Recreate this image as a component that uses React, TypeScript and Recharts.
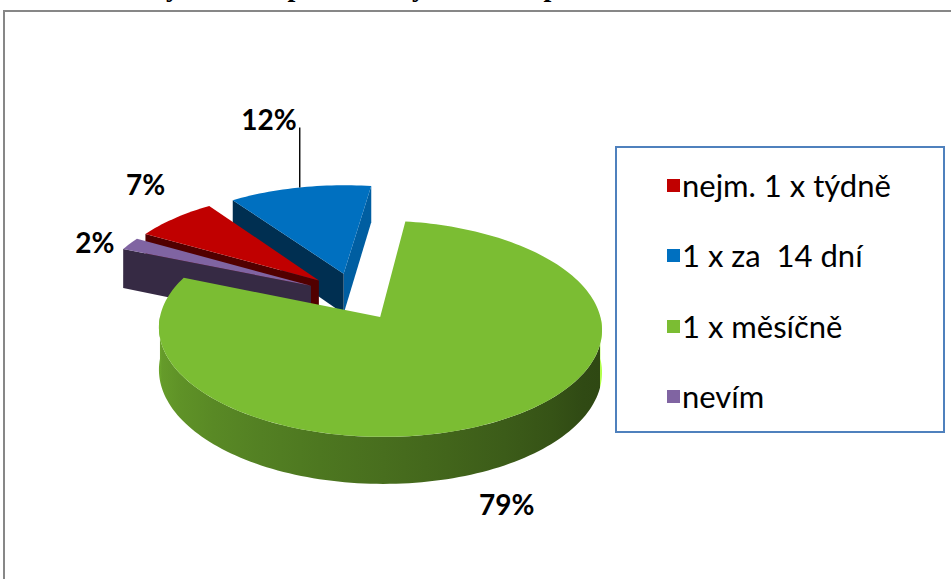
import { PieChart, Pie, Cell, Legend } from 'recharts';

// wedges listed counter-clockwise, starting with the 14-day wedge at the top
const answers = ['1 x za  14 dní', 'nejm. 1 x týdně', 'nevím', '1 x měsíčně'];
const shares = [12, 7, 2, 79];
const sliceColors = ['#0070C0', '#C00000', '#8064A2', '#7BBD33'];
const legendOrder = ['nejm. 1 x týdně', '1 x za  14 dní', '1 x měsíčně', 'nevím'];

const data = answers.map((name, i) => ({ name, value: shares[i] }));
const colorOf = (name: string) => sliceColors[answers.indexOf(name)];

// fake 3D: tilt of the disc, perspective strength, wall height, explode distance
const TILT = 0.475;
const PERSP = 0.107;
const DEPTH = 41;
const EXPLODE = 0.23;
const RAD = Math.PI / 180;

// where the percentage sits relative to the middle of each wedge's rim
const labelNudge: Record<string, [number, number]> = {
  'nevím': [-35, -2],
  'nejm. 1 x týdně': [-29, -34],
  '1 x měsíčně': [3, 85],
};
const LEADER = 60;

const shade = (hex: string, f: number) => {
  const n = parseInt(hex.slice(1), 16);
  const c = [(n >> 16) & 255, (n >> 8) & 255, n & 255].map((v) => Math.round(v * f));
  return `rgb(${c[0]},${c[1]},${c[2]})`;
};

const poly = (pts: number[][]) => 'M' + pts.map((p) => `${p[0].toFixed(2)},${p[1].toFixed(2)}`).join('L') + 'Z';

// projects a point of the exploded wedge (unit disc) onto the screen
function projector(cx: number, cy: number, r: number, midAngle: number) {
  const ox = EXPLODE * Math.cos(midAngle * RAD);
  const oy = EXPLODE * Math.sin(midAngle * RAD);
  return (deg: number, drop = 0, k = 1): number[] => {
    const X = ox + k * Math.cos(deg * RAD);
    const S = oy + k * Math.sin(deg * RAD);
    const p = 1 / (1 + PERSP * S);
    return [cx + r * X * p, cy + (drop - r * TILT * S) * p];
  };
}

function arcPoints(pt: (d: number, drop?: number) => number[], a0: number, a1: number, drop: number) {
  const n = Math.max(2, Math.ceil(Math.abs(a1 - a0) / 1.5));
  return Array.from({ length: n + 1 }, (_, k) => pt(a0 + ((a1 - a0) * k) / n, drop));
}

function Slice3D(props: any) {
  const { cx, cy, outerRadius, startAngle, endAngle, midAngle, index } = props;
  const name = props.payload?.name ?? props.name;
  const fill = colorOf(name);
  const pt = projector(cx, cy, outerRadius, midAngle);
  const apexTop = pt(0, 0, 0);
  const apexBottom = pt(0, DEPTH, 0);
  const dir = startAngle > endAngle ? 1 : -1;

  // flat cut faces, drawn only when they face the viewer
  const cuts = [
    [startAngle, startAngle + 90 * dir],
    [endAngle, endAngle - 90 * dir],
  ]
    .filter(([, normal]) => Math.sin(normal * RAD) < -0.02)
    .map(([a, normal], i) => {
      const f = 0.42 + 0.42 * Math.max(0, Math.cos((normal + 10) * RAD));
      return <path key={`cut${i}`} d={poly([apexTop, pt(a), pt(a, DEPTH), apexBottom])} fill={shade(fill, f)} />;
    });

  // curved rim, front half only
  const lo = Math.min(startAngle, endAngle);
  const hi = Math.max(startAngle, endAngle);
  const rims: any[] = [];
  for (let k = -2; k <= 2; k++) {
    const a0 = Math.max(lo, -180 + 360 * k);
    const a1 = Math.min(hi, 360 * k);
    if (a1 - a0 < 0.5) continue;
    const top = arcPoints(pt, a0, a1, 0);
    const bottom = arcPoints(pt, a1, a0, DEPTH);
    const xs = top.map((p) => p[0]);
    const x0 = Math.min(...xs);
    const x1 = Math.max(...xs);
    const id = `rim-${index}-${k}`;
    const stops = Array.from({ length: 13 }, (_, j) => {
      const a = a0 + ((a1 - a0) * j) / 12;
      const phi = ((a % 360) + 360) % 360;
      const f = Math.max(0.38, 0.87 - 0.0032 * (phi - 180));
      return { off: (pt(a)[0] - x0) / (x1 - x0 || 1), color: shade(fill, f) };
    }).sort((s, t) => s.off - t.off);
    rims.push(
      <g key={id}>
        <defs>
          <linearGradient id={id} gradientUnits="userSpaceOnUse" x1={x0} y1={0} x2={x1} y2={0}>
            {stops.map((s, j) => (
              <stop key={j} offset={s.off} stopColor={s.color} />
            ))}
          </linearGradient>
        </defs>
        <path d={poly([...top, ...bottom])} fill={`url(#${id})`} />
      </g>,
    );
  }

  return (
    <g>
      {cuts}
      {rims}
      <path d={poly([apexTop, ...arcPoints(pt, startAngle, endAngle, 0)])} fill={fill} />
    </g>
  );
}

const labelFont = { fontFamily: 'Lato, sans-serif', fontWeight: 700, fontSize: 28, fill: '#000' };

function SliceLabel(props: any) {
  const { cx, cy, outerRadius, midAngle, percent } = props;
  const name = props.payload?.name ?? props.name;
  const pt = projector(cx, cy, outerRadius, midAngle);
  const [mx, my] = pt(midAngle);
  const text = `${Math.round(percent * 100)}%`;
  if (!labelNudge[name]) {
    return (
      <g>
        <line x1={mx} y1={my} x2={mx} y2={my - LEADER} stroke="#000" strokeWidth={1.4} />
        <text x={mx - 3} y={my - LEADER - 9} textAnchor="end" dominantBaseline="central" {...labelFont}>
          {text}
        </text>
      </g>
    );
  }
  const [dx, dy] = labelNudge[name];
  return (
    <text x={mx + dx} y={my + dy} textAnchor="middle" dominantBaseline="central" {...labelFont}>
      {text}
    </text>
  );
}

function LegendBox(props: any) {
  const names = (props.payload ?? []).map((p: any) => p.value);
  const items = (names.length ? names : legendOrder)
    .slice()
    .sort((a: string, b: string) => legendOrder.indexOf(a) - legendOrder.indexOf(b));
  return (
    <div
      style={{
        boxSizing: 'border-box',
        width: 330,
        height: 287,
        border: '2px solid #4F81BD',
        padding: '2px 0 0 50px',
        background: '#fff',
      }}
    >
      {items.map((name: string) => (
        <div key={name} style={{ display: 'flex', alignItems: 'center', height: 70.5 }}>
          <span style={{ width: 13, height: 13, background: colorOf(name), marginRight: 2, flex: 'none' }} />
          <span
            style={{
              fontFamily: 'Lato, sans-serif',
              fontSize: 31,
              color: '#000',
              whiteSpace: 'pre',
              lineHeight: '31px',
            }}
          >
            {name}
          </span>
        </div>
      ))}
    </div>
  );
}

export default function App() {
  return (
    <div style={{ position: 'absolute', left: 0, top: 0, width: 951, height: 579, overflow: 'hidden', background: '#fff' }}>
      <div
        style={{
          position: 'absolute',
          right: 353,
          top: -27,
          fontFamily: '"Liberation Serif", serif',
          fontWeight: 700,
          fontSize: 28,
          lineHeight: '28px',
          whiteSpace: 'nowrap',
        }}
      >
        Graf 15 Časový interval pro samovyšetřování prsu
      </div>
      <div
        style={{ position: 'absolute', left: 3, top: 10, width: 1000, height: 1000, border: '2px solid #878787' }}
      />
      <div style={{ position: 'absolute', left: 0, top: 0 }}>
        <PieChart width={951} height={579} margin={{ top: 0, right: 0, bottom: 0, left: 0 }}>
          <Pie
            data={data}
            dataKey="value"
            nameKey="name"
            cx={355}
            cy={296}
            outerRadius={215.5}
            startAngle={82}
            endAngle={442}
            stroke="none"
            shape={Slice3D}
            label={SliceLabel}
            labelLine={false}
            isAnimationActive={false}
          >
            {data.map((d) => (
              <Cell key={d.name} fill={colorOf(d.name)} />
            ))}
          </Pie>
          <Legend
            layout="vertical"
            align="right"
            verticalAlign="middle"
            content={LegendBox}
            wrapperStyle={{ left: 615, top: 146, right: 'auto', bottom: 'auto', width: 330 }}
          />
        </PieChart>
      </div>
    </div>
  );
}
